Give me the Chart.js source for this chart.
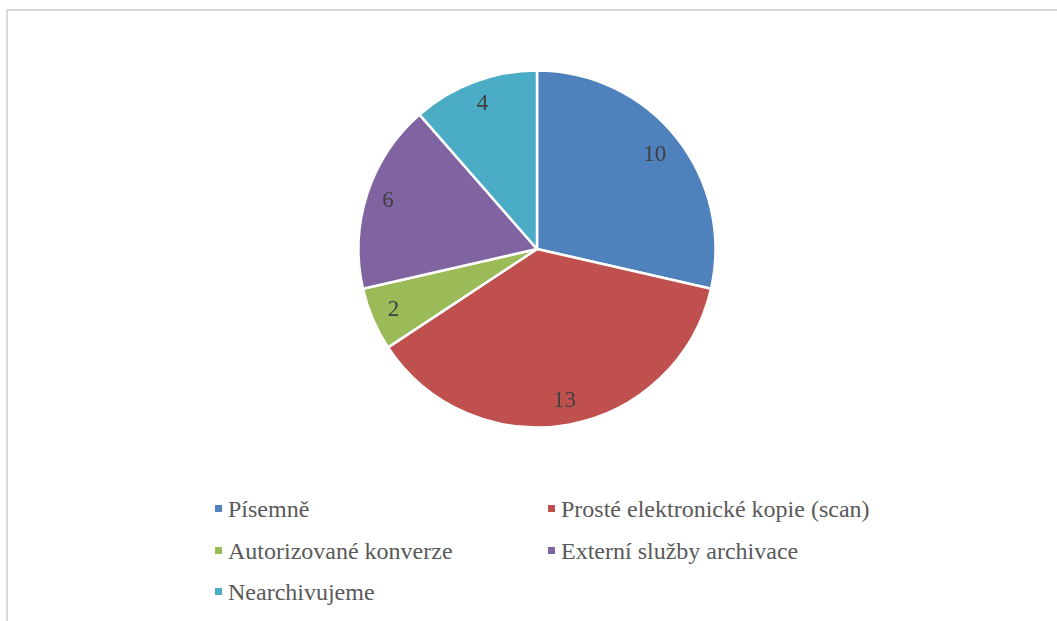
<!DOCTYPE html>
<html>
<head>
<meta charset="utf-8">
<script src="https://cdn.jsdelivr.net/npm/chart.js@4/dist/chart.umd.min.js"></script>
<style>
    body { margin: 0; background: #fff; width: 1057px; height: 621px; overflow: hidden; position: relative; }
    #frame { position: absolute; left: 6px; top: 9px; width: 1100px; height: 700px;
             border-top: 2px solid #d9d9d9; border-left: 2px solid #d9d9d9; }
    #pieBox { position: absolute; left: 337px; top: 49px; width: 400px; height: 400px; }
    .lg-box { position: absolute; width: 7px; height: 7px; }
    .lg-text { position: absolute; font-family: "Liberation Serif", "Times New Roman", serif;
               font-size: 24px; line-height: 24px; color: #595959; white-space: nowrap; }
</style>
</head>
<body>
<div id="frame"></div>
<div id="pieBox"><canvas id="pieChart"></canvas></div>
<div id="legend"></div>
<script>
// Chart data
const categories = ['Písemně', 'Prosté elektronické kopie (scan)', 'Autorizované konverze', 'Externí služby archivace', 'Nearchivujeme'];
const values = [10, 13, 2, 6, 4];
const sliceColors = ['#4f81bd', '#c0504d', '#9bbb59', '#8064a2', '#4bacc6'];

// Value labels placed just inside the outer edge of each slice
const valueLabels = {
    id: 'valueLabels',
    afterDatasetsDraw(chart) {
        const ctx = chart.ctx;
        const arcs = chart.getDatasetMeta(0).data;
        ctx.save();
        ctx.font = '23px "Liberation Serif", "Times New Roman", serif';
        ctx.fillStyle = '#404040';
        ctx.textAlign = 'center';
        ctx.textBaseline = 'middle';
        arcs.forEach((arc, i) => {
            const mid = (arc.startAngle + arc.endAngle) / 2;
            const dx = Math.cos(mid), dy = Math.sin(mid);
            const text = String(values[i]);
            const w = ctx.measureText(text).width;
            const d = arc.outerRadius - 14 - (Math.abs(dx) * w / 2 + Math.abs(dy) * 8);
            ctx.fillText(text, arc.x + dx * d, arc.y + dy * d);
        });
        ctx.restore();
    }
};

new Chart(document.getElementById('pieChart'), {
    type: 'pie',
    data: {
        labels: categories,
        datasets: [{
            data: values,
            backgroundColor: sliceColors,
            borderColor: '#ffffff',
            borderWidth: 2.5
        }]
    },
    options: {
        responsive: true,
        maintainAspectRatio: false,
        animation: false,
        radius: 178.5,
        plugins: {
            legend: { display: false },
            tooltip: { enabled: false }
        }
    },
    plugins: [valueLabels]
});

// Legend in two columns, like the original
function buildLegend() {
    const legend = document.getElementById('legend');
    const colX = [215, 548];
    const rowTop = [497, 538.5, 580];
    categories.forEach((name, i) => {
        const col = i % 2;
        const row = Math.floor(i / 2);
        const box = document.createElement('div');
        box.className = 'lg-box';
        box.style.left = colX[col] + 'px';
        box.style.top = (rowTop[row] + 8) + 'px';
        box.style.background = sliceColors[i];
        legend.appendChild(box);
        const txt = document.createElement('div');
        txt.className = 'lg-text';
        txt.style.left = (colX[col] + 13) + 'px';
        txt.style.top = rowTop[row] + 'px';
        txt.textContent = name;
        legend.appendChild(txt);
    });
}
buildLegend();
</script>
</body>
</html>
